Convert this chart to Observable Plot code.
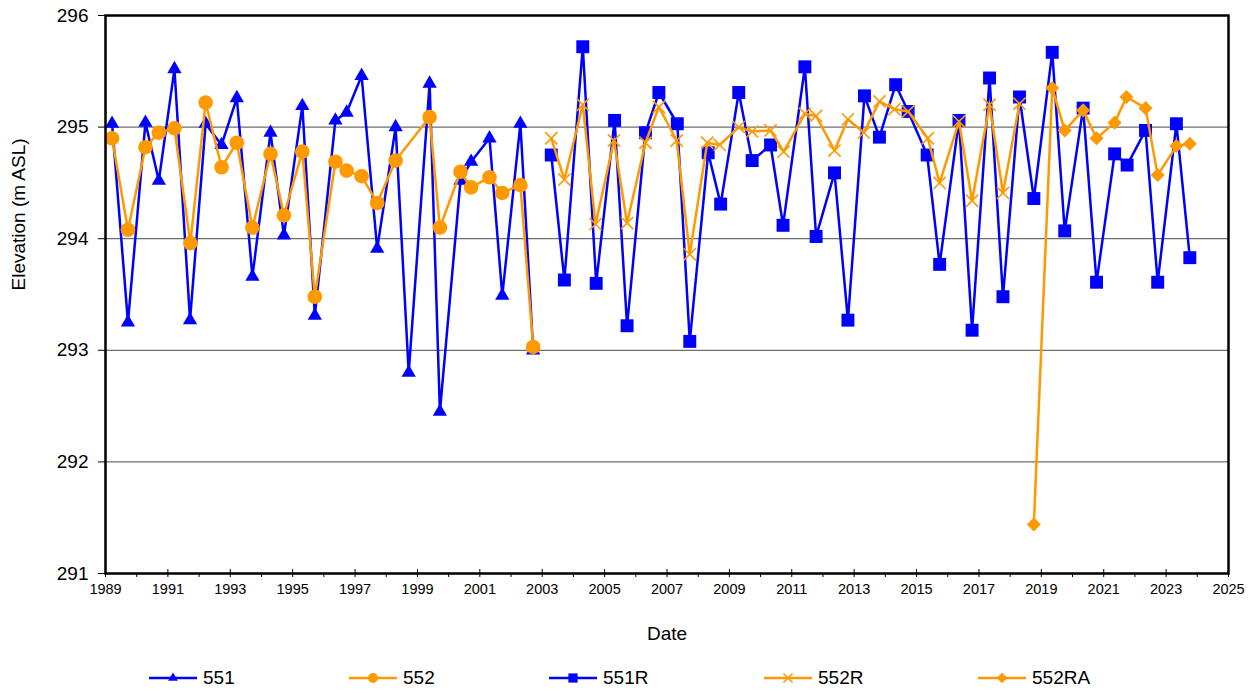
<!DOCTYPE html>
<html><head><meta charset="utf-8">
<script src="https://cdn.jsdelivr.net/npm/d3@7"></script>
<script src="https://cdn.jsdelivr.net/npm/@observablehq/plot@0.6"></script>
<style>
body{margin:0;background:#fff;font-family:"Liberation Sans",Arial,sans-serif;}
#wrap{position:relative;width:1257px;height:694px;overflow:hidden;}
#legend{position:absolute;left:0;top:664px;width:1257px;height:28px;}
.item{position:absolute;top:0;height:28px;display:flex;align-items:center;font-size:19px;color:#000;white-space:nowrap;}
.item svg{margin-right:6px;}
</style></head><body><div id="wrap"><div id="chart"></div><div id="legend"></div></div>
<script>
// ---- data (decimal year, elevation m ASL) ----
const seriesNames = ["551", "552", "551R", "552R", "552RA"];

const s551Dates = [1989.21,1989.72,1990.28,1990.71,1991.21,1991.71,1992.21,1992.72,1993.21,1993.71,1994.29,1994.72,1995.31,1995.71,1996.37,1996.73,1997.21,1997.71,1998.30,1998.72,1999.39,1999.72,2000.38,2000.72,2001.31,2001.72,2002.30,2002.71];
const s551Values = [295.03,293.25,295.04,294.52,295.52,293.27,295.03,294.84,295.26,293.66,294.95,294.03,295.19,293.31,295.06,295.13,295.46,293.91,295.00,292.80,295.39,292.45,294.52,294.69,294.90,293.49,295.03,293.00];

const s552Dates = [1989.21,1989.72,1990.28,1990.71,1991.21,1991.72,1992.21,1992.72,1993.21,1993.71,1994.29,1994.72,1995.31,1995.71,1996.37,1996.73,1997.21,1997.71,1998.30,1999.39,1999.72,2000.38,2000.72,2001.31,2001.72,2002.30,2002.71];
const s552Values = [294.90,294.08,294.82,294.95,294.99,293.96,295.22,294.64,294.86,294.10,294.76,294.21,294.78,293.48,294.69,294.61,294.56,294.32,294.70,295.09,294.10,294.60,294.46,294.55,294.41,294.48,293.03];

const s551RDates = [2003.29,2003.71,2004.30,2004.73,2005.32,2005.72,2006.31,2006.74,2007.33,2007.73,2008.32,2008.72,2009.30,2009.73,2010.32,2010.72,2011.42,2011.78,2012.37,2012.80,2013.33,2013.81,2014.33,2014.73,2015.34,2015.74,2016.36,2016.78,2017.34,2017.77,2018.30,2018.76,2019.35,2019.75,2020.34,2020.77,2021.35,2021.75,2022.34,2022.73,2023.33,2023.76];
const s551RValues = [294.75,293.63,295.72,293.60,295.06,293.22,294.95,295.31,295.03,293.08,294.77,294.31,295.31,294.70,294.84,294.12,295.54,294.02,294.59,293.27,295.28,294.91,295.38,295.14,294.75,293.77,295.06,293.18,295.44,293.48,295.27,294.36,295.67,294.07,295.17,293.61,294.76,294.66,294.97,293.61,295.03,293.83];

const s552RDates = [2003.29,2003.71,2004.30,2004.71,2005.30,2005.72,2006.31,2006.74,2007.31,2007.73,2008.29,2008.69,2009.30,2009.73,2010.32,2010.74,2011.42,2011.78,2012.37,2012.80,2013.31,2013.81,2014.29,2014.73,2015.36,2015.74,2016.36,2016.78,2017.34,2017.77,2018.30];
const s552RValues = [294.90,294.53,295.20,294.13,294.88,294.14,294.86,295.18,294.88,293.86,294.86,294.84,295.00,294.96,294.97,294.78,295.12,295.10,294.79,295.07,294.95,295.23,295.16,295.14,294.90,294.50,295.05,294.34,295.20,294.41,295.21];

const s552RADates = [2018.76,2019.35,2019.75,2020.34,2020.77,2021.35,2021.73,2022.34,2022.73,2023.33,2023.76];
const s552RAValues = [291.44,295.35,294.97,295.15,294.90,295.04,295.27,295.17,294.57,294.83,294.85];

const yTicks = [291, 292, 293, 294, 295, 296];
const gridValues = [292, 293, 294, 295];
const xMajorTicks = d3.range(1989, 2026, 2);
const xMinorTicks = d3.range(1990, 2025, 2);

// ---- styling per series ----
const BLUE = "#0000ff", ORANGE = "#ff9900";
const styles = {
  "551":   {color: BLUE,   symbol: "triangle", r: 5.3, filled: true,  rotate: 0,  lr: 3.6},
  "552":   {color: ORANGE, symbol: "circle",   r: 7.3, filled: true,  rotate: 0,  lr: 5},
  "551R":  {color: BLUE,   symbol: "square",   r: 7.3, filled: true,  rotate: 0,  lr: 5.2},
  "552R":  {color: ORANGE, symbol: "times",    r: 5.6, filled: false, rotate: 0,  lr: 4.2},
  "552RA": {color: ORANGE, symbol: "square",   r: 5.6, filled: true,  rotate: 45, lr: 4.2}
};
const dateArrays = [s551Dates, s552Dates, s551RDates, s552RDates, s552RADates];
const valueArrays = [s551Values, s552Values, s551RValues, s552RValues, s552RAValues];
const tables = seriesNames.map((name, k) => dateArrays[k].map((d, i) => ({series: name, date: d, value: valueArrays[k][i]})));

const seriesMarks = [];
tables.forEach((rows, k) => {
  const st = styles[seriesNames[k]];
  seriesMarks.push(Plot.line(rows, {x: "date", y: "value", stroke: st.color, strokeWidth: 2.5}));
  seriesMarks.push(Plot.dot(rows, st.filled
    ? {x: "date", y: "value", symbol: () => st.symbol, r: st.r, fill: st.color, stroke: "none", rotate: st.rotate}
    : {x: "date", y: "value", symbol: () => st.symbol, r: st.r, fill: "none", stroke: st.color, strokeWidth: 1.6}));
});

const chart = Plot.plot({
  width: 1257,
  height: 655,
  marginLeft: 105,
  marginRight: 29,
  marginTop: 15,
  marginBottom: 82,
  style: {fontFamily: "'Liberation Sans', Arial, sans-serif", background: "#fff", color: "#000", overflow: "visible"},
  x: {domain: [1989, 2025], label: null},
  y: {domain: [291, 296], label: null},
  symbol: {type: "identity"},
  marks: [
    Plot.ruleY(gridValues, {stroke: "#6e6e6e", strokeWidth: 1.2}),
    ...seriesMarks,
    Plot.frame({stroke: "#000", strokeWidth: 2.5}),
    Plot.axisY({ticks: yTicks, tickSize: 7, tickPadding: 10, fontSize: 19, label: null, tickFormat: "d"}),
    Plot.axisX({ticks: xMajorTicks, tickSize: 4, tickPadding: 6, fontSize: 14.5, label: null, tickFormat: "d"}),
    Plot.axisX({ticks: xMinorTicks, tickSize: 4, tickFormat: () => "", label: null}),
    Plot.ruleX(xMajorTicks, {y1: 291, y2: 291, insetTop: -4, stroke: "#000"}),
    Plot.text(["Date"], {frameAnchor: "bottom", dy: 66, fontSize: 19}),
    Plot.text(["Elevation (m ASL)"], {frameAnchor: "left", dx: -87, dy: -4, rotate: -90, fontSize: 19})
  ]
});
document.getElementById("chart").appendChild(chart);

// ---- legend ----
const legendLeft = [149, 349, 549, 764, 978];
const legend = document.getElementById("legend");
seriesNames.forEach((name, k) => {
  const st = styles[name];
  const item = document.createElement("div");
  item.className = "item";
  item.style.left = legendLeft[k] + "px";
  const sym = {triangle: d3.symbolTriangle, circle: d3.symbolCircle, square: d3.symbolSquare, times: d3.symbolTimes}[st.symbol];
  const path = d3.symbol(sym, Math.PI * st.lr * st.lr)();
  const svg = d3.create("svg").attr("width", 48).attr("height", 20);
  svg.append("line").attr("x1", 0).attr("x2", 48).attr("y1", 10).attr("y2", 10).attr("stroke", st.color).attr("stroke-width", 2.5);
  const p = svg.append("path").attr("d", path).attr("transform", `translate(24,10) rotate(${st.rotate})`);
  if (st.filled) p.attr("fill", st.color); else p.attr("fill", "none").attr("stroke", st.color).attr("stroke-width", 1.5);
  item.appendChild(svg.node());
  const label = document.createElement("span");
  label.textContent = name;
  item.appendChild(label);
  legend.appendChild(item);
});
</script>
</body></html>
